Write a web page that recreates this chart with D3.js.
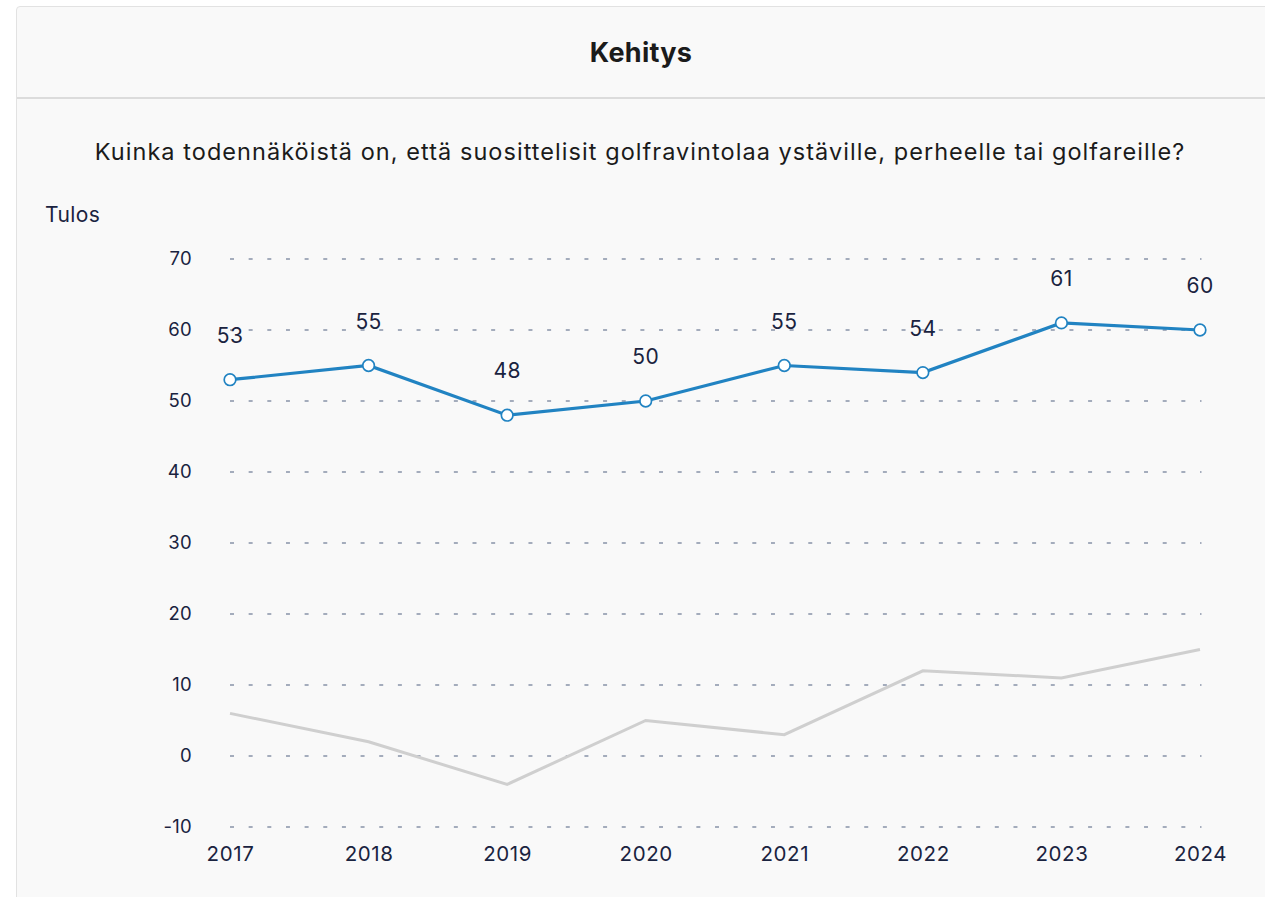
<!DOCTYPE html>
<html>
<head>
<meta charset="utf-8">
<script src="https://cdn.jsdelivr.net/npm/d3@7"></script>
<style>
  body { margin: 0; background: #fff; font-family: Inter, "Noto Sans", sans-serif; }
  #card {
    position: absolute; left: 16px; top: 6px; width: 1260px; height: 900px;
    background: #f9f9f9; border: 1px solid #e2e2e2; border-radius: 4px;
  }
  #head {
    height: 90px; border-bottom: 2px solid #dcdcdc;
    display: flex; align-items: center; justify-content: center;
    font-weight: 700; font-size: 27px; letter-spacing: 0.3px; color: #1b1b1b; padding-right: 12px;
  }
</style>
</head>
<body>
<div id="card"><div id="head">Kehitys</div></div>
<svg id="chart" width="1265" height="897" style="position:absolute;left:0;top:0"></svg>
<script>
function init(){
    var years = ["2017", "2018", "2019", "2020", "2021", "2022", "2023", "2024"];
    var tulos = [53, 55, 48, 50, 55, 54, 61, 60];
    var vertailu = [6, 2, -4, 5, 3, 12, 11, 15];
    var yTicks = [-10, 0, 10, 20, 30, 40, 50, 60, 70];

    var question = "Kuinka todennäköistä on, että suosittelisit golfravintolaa ystäville, perheelle tai golfareille?";
    var textColor = "#1a2340";

    var svg = d3.select("#chart");

    var xScale = d3.scalePoint()
                .domain(years)
                .range([230, 1200]);

    var yScale = d3.scaleLinear()
                .domain([-10, 70])
                .range([827, 259]);

    svg.append("text")
        .attr("x", 640)
        .attr("y", 160)
        .attr("text-anchor", "middle")
        .attr("font-size", "23.5px")
        .attr("letter-spacing", "1.05px")
        .attr("fill", "#1b1b1b")
        .text(question);

    svg.append("text")
        .attr("x", 45)
        .attr("y", 222)
        .attr("font-size", "21px")
        .attr("letter-spacing", "0.4px")
        .attr("fill", textColor)
        .text("Tulos");

    //grid
    svg.selectAll(".grid")
        .data(yTicks)
        .enter()
        .append("line")
        .attr("class", "grid")
        .attr("x1", 230)
        .attr("x2", 1201.5)
        .attr("y1", function(d){ return yScale(d); })
        .attr("y2", function(d){ return yScale(d); })
        .attr("stroke", "#8893a8")
        .attr("stroke-width", 1.3)
        .attr("stroke-dasharray", "4,14.654");

    //y axis labels
    var yAxis = d3.axisLeft(yScale)
                .tickValues(yTicks)
                .tickFormat(function(d){ return String(d); })
                .tickSize(0)
                .tickPadding(0);
    var gy = svg.append("g")
        .attr("transform", "translate(192,0)")
        .call(yAxis);
    gy.select(".domain").remove();
    gy.selectAll("text")
        .attr("font-family", "Inter, 'Noto Sans', sans-serif")
        .attr("font-size", "18.5px")
        .attr("letter-spacing", "0.3px")
        .attr("fill", textColor);

    //x axis labels
    var xAxis = d3.axisBottom(xScale)
                .tickSize(0)
                .tickPadding(0);
    var gx = svg.append("g")
        .attr("transform", "translate(0,846)")
        .call(xAxis);
    gx.select(".domain").remove();
    gx.selectAll("text")
        .attr("font-family", "Inter, 'Noto Sans', sans-serif")
        .attr("font-size", "20.5px")
        .attr("letter-spacing", "0.6px")
        .attr("fill", textColor);

    var line = d3.line()
                .x(function(d, i){ return xScale(years[i]); })
                .y(function(d){ return yScale(d); });

    svg.append("path")
        .datum(vertailu)
        .attr("d", line)
        .attr("fill", "none")
        .attr("stroke", "#cfcfcf")
        .attr("stroke-width", 3);

    svg.append("path")
        .datum(tulos)
        .attr("d", line)
        .attr("fill", "none")
        .attr("stroke", "#2183c2")
        .attr("stroke-width", 3.2);

    svg.selectAll(".dot")
        .data(tulos)
        .enter()
        .append("circle")
        .attr("class", "dot")
        .attr("cx", function(d, i){ return xScale(years[i]); })
        .attr("cy", function(d){ return yScale(d); })
        .attr("r", 5.8)
        .attr("fill", "#fff")
        .attr("stroke", "#2183c2")
        .attr("stroke-width", 1.7);

    svg.selectAll(".lbl")
        .data(tulos)
        .enter()
        .append("text")
        .attr("class", "lbl")
        .attr("x", function(d, i){ return xScale(years[i]); })
        .attr("y", function(d){ return yScale(d) - 37; })
        .attr("text-anchor", "middle")
        .attr("font-size", "21px")
        .attr("letter-spacing", "0.4px")
        .attr("fill", textColor)
        .text(function(d){ return d; });
}
window.onload = init;
</script>
</body>
</html>
